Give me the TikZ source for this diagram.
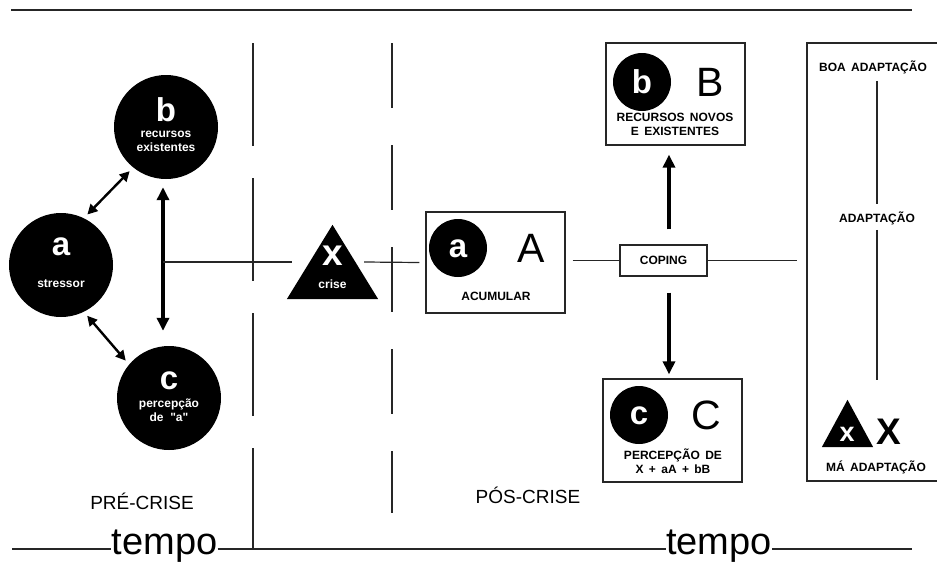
\documentclass[tikz,border=0pt]{standalone}
\usepackage{fontspec}
\setmainfont{Liberation Sans}[Ligatures=TeXOff]
\usetikzlibrary{arrows.meta}
\begin{document}
\begin{tikzpicture}[x=1pt,y=-1pt,
  thinline/.style={line width=1.2pt, draw=black!85},
  boxline/.style={line width=1.3pt, draw=black!85},
  bigcirc/.style={circle, fill=black, minimum size=104pt, inner sep=0},
  smallcirc/.style={circle, fill=black, minimum size=58pt, inner sep=0},
  boxnode/.style={draw=black!85, line width=1.3pt, inner sep=0},
  wl/.style={text=white, font=\bfseries\fontsize{33}{33}\selectfont, inner sep=0},
  ws/.style={text=white, font=\bfseries\fontsize{12}{14}\selectfont, align=center, inner sep=0},
  lab/.style={font=\bfseries\fontsize{12}{14}\selectfont, align=center, inner sep=0},
  bigletter/.style={font=\fontsize{41}{41}\selectfont, inner sep=0},
  era/.style={font=\fontsize{19}{19}\selectfont, inner sep=0},
  tempolab/.style={font=\fontsize{38}{38}\selectfont, inner sep=0, anchor=base},
  thickarrow/.style={-{Triangle[length=13pt,width=12pt]}, line width=3.5pt},
  dblthick/.style={{Triangle[length=13pt,width=12pt]}-{Triangle[length=13pt,width=12pt]}, line width=3.5pt},
  dblmid/.style={{Triangle[length=10pt,width=10pt]}-{Triangle[length=10pt,width=10pt]}, line width=2.4pt}
]
\useasboundingbox (0,0) rectangle (937,563);

% top and time lines
\draw[thinline] (11,10) -- (912,10);
\node[tempolab] (t1) at (164.5,554) {tempo};
\node[tempolab] (t2) at (719,554) {tempo};
\coordinate (bl) at (12,549);
\coordinate (br) at (912,549);
\draw[thinline] (bl) -- ([yshift=5pt]t1.base west);
\draw[thinline] ([yshift=5pt]t1.base east) -- ([yshift=5pt]t2.base west);
\draw[thinline] ([yshift=5pt]t2.base east) -- (br);

% dashed separators
\draw[thinline, dash pattern=on 103pt off 32pt] (253,43) -- (253,549);
\draw[thinline, dash pattern=on 65pt off 37pt] (392,43) -- (392,513);

% pre-crisis circles
\node[bigcirc] (a) at (61,265) {};
\node[bigcirc] (b) at (166,127) {};
\node[bigcirc] (c) at (169,398) {};
\node[wl] (ta) at (61,247) {a};
\node[ws] (tas) at (61,284) {stressor};
\node[wl] (tb) at (166,110) {b};
\node[ws] (tbs) at (166,141) {recursos\\existentes};
\node[wl] (tc) at (169,381) {c};
\node[ws] (tcs) at (169,410) {percepção\\de \ "a"};

\draw[dblmid, shorten <=5pt, shorten >=5pt] (a.64) -- (b.231);
\draw[dblmid, shorten <=5pt, shorten >=5pt] (a.-64) -- (c.140);
\draw[dblthick, shorten <=8pt, shorten >=15pt] ([xshift=-3pt]b.south) -- ([xshift=-6pt]c.north);

% crisis triangle
\node[minimum width=91pt, minimum height=74pt, inner sep=0] (x) at (332.5,262) {};
\fill (x.north) -- (x.south west) -- (x.south east) -- cycle;
\node[wl, font=\bfseries\fontsize{37}{37}\selectfont] (tx) at (332.5,256) {x};
\node[ws] (txs) at (332.5,284) {crise};

% box A
\node[boxnode, minimum width=139pt, minimum height=101pt] (A) at (495.5,262.5) {};
\node[smallcirc] (ca) at (458,248) {};
\node[wl] (tca) at (458,249) {a};
\node[bigletter] (tA) at (531,248) {A};
\node[lab] (tAs) at (496,296) {ACUMULAR};

% coping
\node[boxnode, minimum width=87pt, minimum height=31pt, font=\bfseries\fontsize{12}{14}\selectfont] (cop) at (663.5,260.5) {COPING};

% box B
\node[boxnode, minimum width=139pt, minimum height=102pt] (B) at (675.5,94) {};
\node[smallcirc] (cb) at (642,82) {};
\node[wl] (tcb) at (642,82) {b};
\node[bigletter] (tB) at (710,82) {B};
\node[lab] (tBs) at (675,124.5) {RECURSOS \,NOVOS\\E \,EXISTENTES};

% box C
\node[boxnode, minimum width=139pt, minimum height=103pt] (C) at (672.5,430.5) {};
\node[smallcirc] (cc) at (639,415) {};
\node[wl] (tcc) at (639,416) {c};
\node[bigletter] (tC) at (706,415) {C};
\node[lab] (tCs) at (673,461.5) {PERCEPÇÃO \,DE\\X \,+ \,aA \,+ \,bB};

% connectors through the chain
\coordinate (L) at (163,262);
\coordinate (R) at (797,262);
\draw[thinline] (L) -- ([xshift=5pt]x.west);
\draw[thinline] ([xshift=-14pt]x.east) -- ([xshift=-6pt]A.west);
\draw[thinline] ([xshift=7pt]A.east |- cop.west) -- (cop.west);
\draw[thinline] (cop.east) -- (R |- cop.east);

\draw[thickarrow, shorten <=15pt, shorten >=9pt] ([xshift=5.5pt]cop.north) -- ([xshift=-6.5pt]B.south);
\draw[thickarrow, shorten <=16pt, shorten >=4pt] ([xshift=5.5pt]cop.south) -- ([xshift=-3.5pt]C.north);

% adaptation box
\draw[boxline] (937,43) -- (807,43) -- (807,481) -- (937,481);
\node[lab] (boa) at (873,67) {BOA \,ADAPTAÇÃO};
\node[lab] (adapt) at (877,218) {ADAPTAÇÃO};
\node[lab] (ma) at (876,467) {MÁ \,ADAPTAÇÃO};
\coordinate (mend) at (877,380);
\draw[thinline, shorten <=7pt, shorten >=7pt] (boa.south -| adapt.north) -- (adapt.north);
\draw[thinline, shorten <=5pt] (adapt.south) -- (mend);
\node[minimum width=51pt, minimum height=47pt, inner sep=0] (mt) at (847.5,423.5) {};
\fill (mt.north) -- (mt.south west) -- (mt.south east) -- cycle;
\node[wl, font=\bfseries\fontsize{27}{27}\selectfont] (tmx) at (847,434) {x};
\node[inner sep=0, font=\bfseries\fontsize{37}{37}\selectfont] (tmX) at (889,432) {X};

% era labels
\node[era] (pre) at (142,501) {PRÉ-CRISE};
\node[era] (pos) at (528,495) {PÓS-CRISE};
\end{tikzpicture}
\end{document}
